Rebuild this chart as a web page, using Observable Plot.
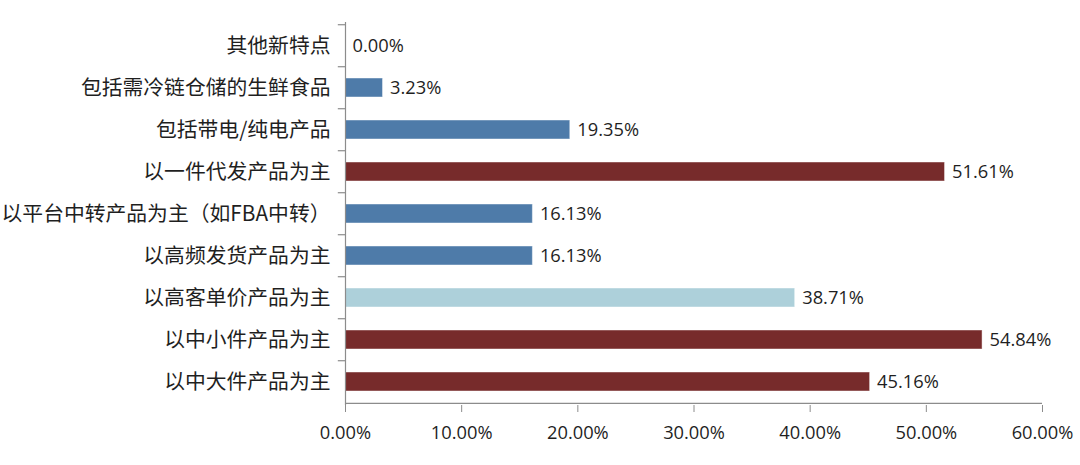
<!DOCTYPE html>
<html>
<head>
<meta charset="utf-8">
<script src="https://cdn.jsdelivr.net/npm/d3@7"></script>
<script src="https://cdn.jsdelivr.net/npm/@observablehq/plot@0.6"></script>
<style>
  html, body { margin: 0; padding: 0; background: #fff; }
  #chart svg { display: block; }
  #chart svg [aria-label^="y-axis"] text { font-family: "Noto Sans CJK SC", sans-serif; font-size: 20.8px; fill: #1f1f1f; }
  #chart svg [aria-label^="x-axis"] text { font-family: "Open Sans", sans-serif; font-size: 18.3px; fill: #1f1f1f; }
</style>
</head>
<body>
<div id="chart"></div>
<script>
const categories = [
  "其他新特点",
  "包括需冷链仓储的生鲜食品",
  "包括带电/纯电产品",
  "以一件代发产品为主",
  "以平台中转产品为主（如FBA中转）",
  "以高频发货产品为主",
  "以高客单价产品为主",
  "以中小件产品为主",
  "以中大件产品为主"
];
const values = [0.00, 3.23, 19.35, 51.61, 16.13, 16.13, 38.71, 54.84, 45.16];
const groups = ["blue", "blue", "blue", "red", "blue", "blue", "light", "red", "red"];
const xTicks = [0, 10, 20, 30, 40, 50, 60];

const colorMap = { red: "#772B2B", blue: "#4E7BA9", light: "#ADD0DA" };
const data = categories.map((c, i) => ({ category: c, value: values[i], group: groups[i] }));

const W = 1080, H = 465, mTop = 22, mBottom = 60;
const step = (H - mTop - mBottom) / categories.length;
const axisColor = "#8c8c8c";

const plot = Plot.plot({
  width: W,
  height: H,
  marginLeft: 345,
  marginRight: 38,
  marginTop: mTop,
  marginBottom: mBottom,
  style: { background: "#fff", overflow: "visible" },
  x: {
    domain: [0, 60],
    ticks: xTicks,
    tickFormat: d => d.toFixed(2) + "%",
    tickSize: 7,
    tickPadding: 13,
    label: null
  },
  y: {
    domain: categories,
    paddingInner: 0.54,
    paddingOuter: 0.27,
    tickSize: 0,
    tickPadding: 15,
    label: null
  },
  color: { domain: Object.keys(colorMap), range: Object.values(colorMap) },
  marks: [
    Plot.barX(data, {
      y: "category",
      x: "value",
      fill: "group",
      stroke: "#ffffff",
      strokeOpacity: 0.45,
      strokeWidth: 1
    }),
    Plot.text(data, {
      y: "category",
      x: "value",
      text: d => d.value.toFixed(2) + "%",
      dx: 7,
      textAnchor: "start",
      fontSize: 18.3,
      fontFamily: "Open Sans, sans-serif",
      fill: "#1f1f1f"
    }),
    Plot.ruleX([0], { stroke: axisColor, strokeWidth: 1.2 }),
    Plot.ruleY(categories, { y: d => d, x1: -0.62, x2: 0, dy: -step / 2, stroke: axisColor, strokeWidth: 1.2 }),
    Plot.ruleY([categories[categories.length - 1]], { y: d => d, x1: 0, x2: 60, dy: step / 2, stroke: axisColor, strokeWidth: 1.2 })
  ]
});

d3.select(plot).selectAll('[aria-label^="x-axis"] path, [aria-label^="x-axis"] line').attr("stroke", axisColor);
document.getElementById("chart").appendChild(plot);
</script>
</body>
</html>
